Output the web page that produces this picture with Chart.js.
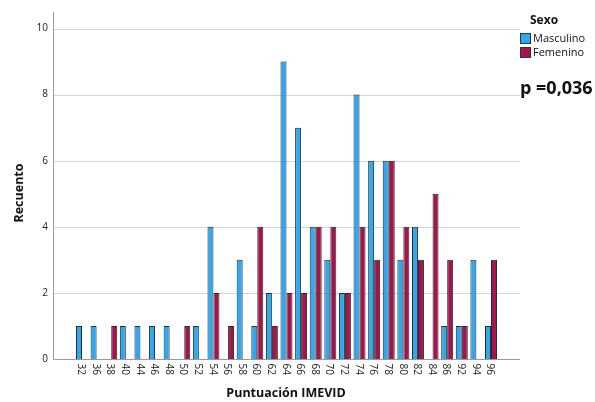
<!DOCTYPE html>
<html>
<head>
<meta charset="utf-8">
<script src="https://cdn.jsdelivr.net/npm/chart.js@4"></script>
<style>
  html, body { margin: 0; padding: 0; background: #fff; }
  #wrap { position: relative; width: 595px; height: 402px; font-family: "Open Sans", "DejaVu Sans", sans-serif; }
  canvas { position: absolute; left: 0; top: 0; }
  .lg { position: absolute; color: #111; }
  .box { position: absolute; width: 9px; height: 9px; border: 1px solid #333; }
</style>
</head>
<body>
<div id="wrap">
  <canvas id="c" width="595" height="402"></canvas>
  <div class="lg" style="left:530px; top:11px; font-weight:bold; font-size:12px;">Sexo</div>
  <div class="box" style="left:520px; top:33px; background:#2FA8F0;"></div>
  <div class="lg" style="left:533px; top:30px; font-size:11px;">Masculino</div>
  <div class="box" style="left:520px; top:47px; background:#A3154E;"></div>
  <div class="lg" style="left:533px; top:44px; font-size:11px;">Femenino</div>
  <div class="lg" style="left:520px; top:75px; font-weight:bold; font-size:18px;">p =0,036</div>
</div>
<script>
const categories = ["32","36","38","40","44","46","48","50","52","54","56","58","60","62","64","66","68","70","72","74","76","78","80","82","84","86","92","94","96"];
const masculino = [1,1,0,1,1,1,1,0,1,4,0,3,1,2,9,7,4,3,2,8,6,6,3,4,0,1,1,3,1];
const femenino  = [0,0,1,0,0,0,0,1,0,2,1,0,4,1,2,2,4,4,2,4,3,6,4,3,5,3,1,0,3];
const yTicks = [0,2,4,6,8,10];

const AX_LEFT = 53, AX_RIGHT = 520, AX_TOP = 12;
const FONT = '"Open Sans", "DejaVu Sans", sans-serif';

const decor = {
  id: 'decor',
  beforeDatasetsDraw(chart) {
    const ctx = chart.ctx, y = chart.scales.y;
    ctx.save();
    ctx.strokeStyle = '#d6d6d6';
    ctx.lineWidth = 1;
    yTicks.forEach(v => {
      if (v === 0) return;
      const py = Math.round(y.getPixelForValue(v)) + 0.5;
      ctx.beginPath(); ctx.moveTo(AX_LEFT, py); ctx.lineTo(AX_RIGHT, py); ctx.stroke();
    });
    ctx.restore();
  },
  afterDatasetsDraw(chart) {
    const ctx = chart.ctx, y = chart.scales.y, x = chart.scales.x;
    ctx.save();
    ctx.strokeStyle = '#9a9a9a';
    ctx.lineWidth = 1;
    const py0 = Math.round(y.getPixelForValue(0)) + 0.5;
    ctx.beginPath(); ctx.moveTo(AX_LEFT + 0.5, AX_TOP); ctx.lineTo(AX_LEFT + 0.5, py0); ctx.lineTo(AX_RIGHT, py0); ctx.stroke();
    ctx.fillStyle = '#222';
    ctx.font = '10px ' + FONT;
    // y tick labels
    ctx.textAlign = 'right';
    ctx.textBaseline = 'middle';
    yTicks.forEach(v => ctx.fillText(String(v), 48, y.getPixelForValue(v)));
    // x category labels, rotated clockwise
    ctx.textAlign = 'left';
    categories.forEach((c, i) => {
      const px = x.getPixelForTick(i) - 1;
      ctx.save();
      ctx.translate(px, py0 + 4);
      ctx.rotate(Math.PI / 2);
      ctx.fillText(c, 0, 0);
      ctx.restore();
    });
    ctx.font = 'bold 12.5px ' + FONT;
    ctx.textAlign = 'center';
    ctx.fillStyle = '#111';
    ctx.fillText('Puntuación IMEVID', 286, 393);
    ctx.save();
    ctx.translate(19, 193);
    ctx.rotate(-Math.PI / 2);
    ctx.fillText('Recuento', 0, 0);
    ctx.restore();
    ctx.restore();
  }
};

new Chart(document.getElementById('c'), {
  type: 'bar',
  data: {
    labels: categories,
    datasets: [
      { label: 'Masculino', data: masculino, backgroundColor: '#2FA8F0', borderColor: '#2a2a2a', borderWidth: 1, borderSkipped: 'bottom' },
      { label: 'Femenino', data: femenino, backgroundColor: '#A3154E', borderColor: '#2a2a2a', borderWidth: 1, borderSkipped: 'bottom' }
    ]
  },
  options: {
    responsive: false,
    animation: false,
    devicePixelRatio: 1,
    layout: { padding: { left: 0, right: 96.7, top: 12, bottom: 0 } },
    plugins: { legend: { display: false }, tooltip: { enabled: false } },
    datasets: { bar: { categoryPercentage: 0.82, barPercentage: 1.0 } },
    scales: {
      x: {
        grid: { display: false, drawTicks: false },
        border: { display: false },
        ticks: { display: false, padding: 0 },
        afterFit(s) { s.height = 43; }
      },
      y: {
        min: 0, max: 10.5,
        grid: { display: false, drawTicks: false },
        border: { display: false },
        ticks: { display: false, padding: 0, stepSize: 2 },
        afterBuildTicks(s) { s.ticks = yTicks.map(v => ({ value: v })); },
        afterFit(s) { s.width = 74.7; }
      }
    }
  },
  plugins: [decor]
});
</script>
</body>
</html>
